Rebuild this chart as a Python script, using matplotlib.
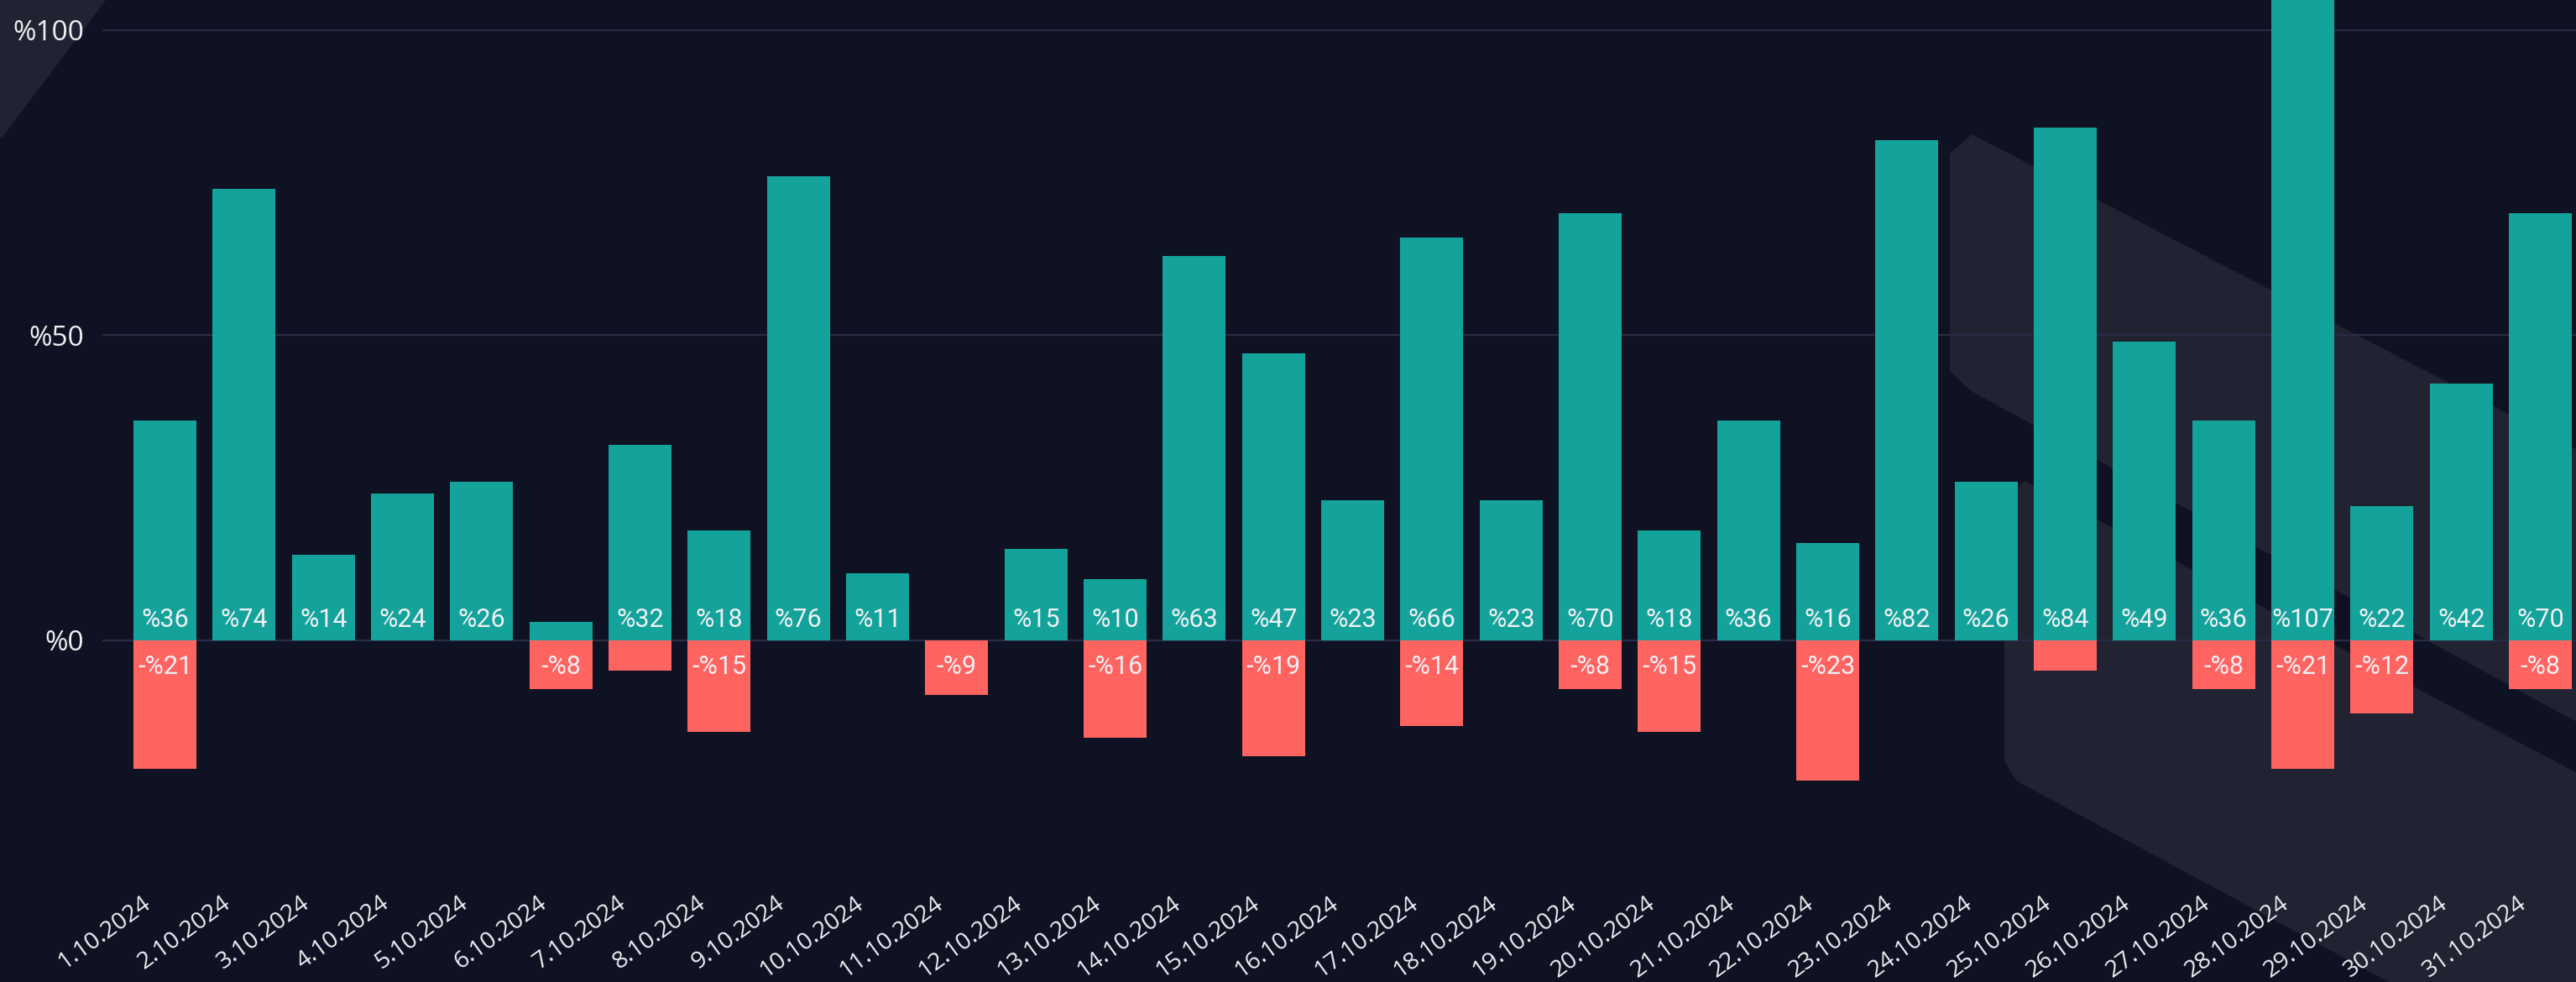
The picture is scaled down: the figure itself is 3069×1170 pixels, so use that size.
import matplotlib
matplotlib.use("Agg")
import matplotlib.pyplot as plt
import matplotlib.transforms as mtransforms
from matplotlib.patches import Polygon

# daily values (percent)
dates = ["1.10.2024", "2.10.2024", "3.10.2024", "4.10.2024", "5.10.2024", "6.10.2024",
         "7.10.2024", "8.10.2024", "9.10.2024", "10.10.2024", "11.10.2024", "12.10.2024",
         "13.10.2024", "14.10.2024", "15.10.2024", "16.10.2024", "17.10.2024", "18.10.2024",
         "19.10.2024", "20.10.2024", "21.10.2024", "22.10.2024", "23.10.2024", "24.10.2024",
         "25.10.2024", "26.10.2024", "27.10.2024", "28.10.2024", "29.10.2024", "30.10.2024",
         "31.10.2024"]
gains = [36, 74, 14, 24, 26, 3, 32, 18, 76, 11, 0, 15, 10, 63, 47, 23, 66, 23, 70, 18,
         36, 16, 82, 26, 84, 49, 36, 107, 22, 42, 70]
losses = [-21, 0, 0, 0, 0, -8, -5, -15, 0, 0, -9, 0, -16, 0, -19, 0, -14, 0, -8, -15,
          0, -23, 0, 0, -5, 0, -8, -21, -12, 0, -8]
ytick_vals = [0, 50, 100]
ytick_txt = ["%0", "%50", "%100"]

BG = "#0f1222"
SHAPE = "#212332"
GRID = "#2a2c45"
TEAL = "#13a39a"
RED = "#ff6461"
TXT = "#f0f0f4"

W, H = 3069, 1170
fig = plt.figure(figsize=(W / 100, H / 100), dpi=100)
fig.patch.set_facecolor(BG)

# decorative background shapes, in pixel coords
bg = fig.add_axes([0, 0, 1, 1], zorder=0)
bg.set_xlim(0, W)
bg.set_ylim(H, 0)
bg.axis("off")
shapes = [
    [(0, 0), (121, 0), (0, 160)],
    [(2327, 185), (2350, 165), (W, 540), (W, 855), (2350, 462), (2327, 440)],
    [(2392, 600), (2412, 578), (W, 925), (W, H), (2855, H), (2405, 927), (2392, 905)],
]
for pts in shapes:
    bg.add_patch(Polygon(pts, closed=True, facecolor=SHAPE, edgecolor=SHAPE,
                         lw=6, joinstyle="round"))

ax = fig.add_axes([122 / W, 110 / H, 1 - 122 / W, 1 - 110 / H], zorder=1)
ax.set_facecolor("none")
x = list(range(len(dates)))
ax.set_xlim(-0.79, 30.45)
ax.set_ylim(-40.85, 104.9)

for y in ytick_vals:
    ax.axhline(y, color=GRID, lw=1.6, zorder=1)

ax.bar(x, gains, width=0.795, color=TEAL, zorder=2)
ax.bar(x, losses, width=0.795, color=RED, zorder=2)

lab_font = ["Roboto", "DejaVu Sans"]
for i in x:
    if gains[i] >= 6:
        ax.annotate("%" + str(gains[i]), (i, 0), xytext=(0, 11.5), textcoords="offset points",
                    ha="center", va="baseline", color=TXT, fontsize=22, family=lab_font, zorder=3)
    if losses[i] <= -6:
        ax.annotate("-%" + str(-losses[i]), (i, 0), xytext=(0, -29), textcoords="offset points",
                    ha="center", va="baseline", color=TXT, fontsize=22, family=lab_font, zorder=3)

for s in ax.spines.values():
    s.set_visible(False)

ax.set_yticks(ytick_vals)
ax.set_yticklabels(ytick_txt, fontsize=24, color=TXT, family=["Open Sans", "DejaVu Sans"])
ax.tick_params(axis="y", length=0, pad=16)

ax.set_xticks(x)
ax.set_xticklabels(dates, rotation=36, ha="right", va="baseline", rotation_mode="anchor",
                   fontsize=20.5, color=TXT, family=["Open Sans", "DejaVu Sans"])
ax.tick_params(axis="x", length=0, pad=14)
shift = mtransforms.ScaledTranslation(-11 / 72, 0, fig.dpi_scale_trans)
for lbl in ax.get_xticklabels():
    lbl.set_transform(lbl.get_transform() + shift)

fig.savefig("out.png", dpi=100, facecolor=BG)
